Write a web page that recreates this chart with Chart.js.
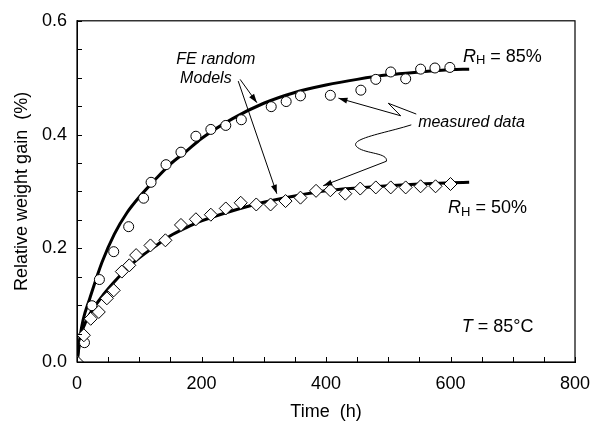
<!DOCTYPE html>
<html><head><meta charset="utf-8">
<script src="https://cdn.jsdelivr.net/npm/chart.js@4/dist/chart.umd.min.js"></script>
<style>html,body{margin:0;padding:0;background:#fff}#wrap{width:603px;height:430px}</style>
</head><body><div id="wrap"><canvas id="c"></canvas></div>
<script>
// measured data, RH = 85% (circles)
const time85 = [12,24,36,59,83,107,119,143,167,191,215,239,264,312,336,359,407,456,480,504,528,552,575,599];
const gain85 = [0.034,0.099,0.145,0.194,0.238,0.288,0.316,0.347,0.369,0.397,0.409,0.416,0.426,0.449,0.458,0.468,0.469,0.478,0.497,0.510,0.498,0.515,0.517,0.518];
// measured data, RH = 50% (diamonds)
const time50 = [0,11,22,35,48,59,72,84,95,118,142,167,191,215,239,263,288,311,335,359,384,407,431,455,480,504,528,552,576,600];
const gain50 = [0,0.047,0.076,0.088,0.112,0.126,0.159,0.170,0.188,0.205,0.214,0.241,0.251,0.259,0.270,0.280,0.277,0.277,0.283,0.289,0.301,0.302,0.296,0.305,0.307,0.307,0.307,0.309,0.309,0.313];
// FE random model curves
const modelTime = [0,5,10,20,40,60,80,100,125,150,175,200,250,300,350,400,450,500,550,600,630];
const model85 = [0,0.045,0.075,0.11,0.175,0.225,0.262,0.29,0.32,0.348,0.37,0.393,0.428,0.455,0.474,0.487,0.497,0.505,0.510,0.514,0.515];
const model50 = [0,0.04,0.06,0.083,0.115,0.141,0.164,0.183,0.203,0.222,0.236,0.248,0.266,0.281,0.292,0.301,0.306,0.310,0.313,0.315,0.316];
// axis ticks
const xLabels = [0,200,400,600,800];
const yLabels = [0.0,0.2,0.4,0.6];

const pts = (xs, ys) => xs.map((x,i)=>({x:x,y:ys[i]}));
const FONT = "'Liberation Sans', Arial, sans-serif";

const framePlugin = {
  id:'frame',
  afterDatasetsDraw(chart){
    const {ctx, chartArea:a, scales:{x,y}} = chart;
    const X = v=>x.getPixelForValue(v), Y = v=>y.getPixelForValue(v);
    ctx.save();
    // frame
    ctx.strokeStyle='#000'; ctx.lineWidth=1.2;
    ctx.strokeRect(a.left, a.top, a.right-a.left, a.bottom-a.top);
    // inward ticks
    ctx.lineWidth=1;
    ctx.beginPath();
    for(let t=0;t<=800;t+=50){ const px=Math.round(X(t))+0.5; ctx.moveTo(px,a.bottom); ctx.lineTo(px,a.bottom-5); }
    for(let v=0;v<=0.6001;v+=0.05){ const py=Math.round(Y(v))+0.5; ctx.moveTo(a.left,py); ctx.lineTo(a.left+5,py); }
    ctx.stroke();

    function arrowHead(x1,y1,x2,y2){
      const ang=Math.atan2(y2-y1,x2-x1), L=9, W=3;
      ctx.beginPath();
      ctx.moveTo(x2,y2);
      ctx.lineTo(x2-L*Math.cos(ang)+W*Math.sin(ang), y2-L*Math.sin(ang)-W*Math.cos(ang));
      ctx.lineTo(x2-L*Math.cos(ang)-W*Math.sin(ang), y2-L*Math.sin(ang)+W*Math.cos(ang));
      ctx.closePath(); ctx.fill();
    }
    ctx.fillStyle='#000'; ctx.lineWidth=1;
    // FE arrows
    const fe = [[262,0.497,289,0.456],[259,0.494,321,0.296]];
    fe.forEach(([t1,v1,t2,v2])=>{
      ctx.beginPath(); ctx.moveTo(X(t1),Y(v1)); ctx.lineTo(X(t2),Y(v2)); ctx.stroke();
      arrowHead(X(t1),Y(v1),X(t2),Y(v2));
    });
    // measured data arrow 1 (zigzag)
    ctx.beginPath();
    ctx.moveTo(X(545),Y(0.436)); ctx.lineTo(X(500),Y(0.455)); ctx.lineTo(X(520),Y(0.433)); ctx.lineTo(X(420),Y(0.464));
    ctx.stroke();
    arrowHead(X(520),Y(0.433),X(420),Y(0.464));
    // measured data arrow 2 (S-curve)
    ctx.beginPath();
    ctx.moveTo(X(537),Y(0.417));
    ctx.bezierCurveTo(X(494),Y(0.402),X(432),Y(0.392),X(451),Y(0.377));
    ctx.bezierCurveTo(X(464),Y(0.366),X(500),Y(0.368),X(497),Y(0.353));
    ctx.lineTo(X(395.5),Y(0.310));
    ctx.stroke();
    arrowHead(X(497),Y(0.353),X(395.5),Y(0.310));

    // texts
    ctx.textBaseline='middle';
    ctx.fillStyle='#000';
    ctx.font="italic 16px "+FONT; ctx.textAlign='center';
    ctx.fillText('FE random', X(223), Y(0.531));
    ctx.fillText('Models', X(207), Y(0.498));
    ctx.textAlign='left';
    ctx.fillText('measured data', X(548), Y(0.421));

    function rh(t,v,val){
      let px=X(t), py=Y(v);
      ctx.font="italic 18px "+FONT; ctx.fillText('R',px,py); px+=ctx.measureText('R').width;
      ctx.font="13px "+FONT; ctx.fillText('H',px,py+4); px+=ctx.measureText('H').width;
      ctx.font="18px "+FONT; ctx.fillText(' = '+val,px,py);
    }
    rh(620,0.537,'85%');
    rh(596,0.270,'50%');
    let px=X(618), py=Y(0.062);
    ctx.font="italic 18px "+FONT; ctx.fillText('T',px,py); px+=ctx.measureText('T').width;
    ctx.font="18px "+FONT; ctx.fillText(' = 85°C',px,py);
    ctx.restore();
  }
};

new Chart(document.getElementById('c'), {
  type:'scatter',
  data:{datasets:[
    {type:'line', data:pts(modelTime,model85), borderColor:'#000', borderWidth:3, pointRadius:0, fill:false, cubicInterpolationMode:'monotone', order:3},
    {type:'line', data:pts(modelTime,model50), borderColor:'#000', borderWidth:3, pointRadius:0, fill:false, cubicInterpolationMode:'monotone', order:3},
    {data:pts(time85,gain85), pointStyle:'circle', pointRadius:5, backgroundColor:'#fff', borderColor:'#000', borderWidth:1, order:1},
    {data:pts(time50,gain50), pointStyle:'rectRot', pointRadius:6.5, backgroundColor:'#fff', borderColor:'#000', borderWidth:1, order:0}
  ]},
  options:{
    responsive:true, maintainAspectRatio:false, animation:false,
    devicePixelRatio:1,
    layout:{padding:{left:0,top:13,right:28,bottom:0}},
    plugins:{legend:{display:false}, tooltip:{enabled:false}},
    scales:{
      x:{type:'linear', min:0, max:800,
        afterFit(s){ s.height=68; },
        afterBuildTicks(s){ s.ticks = xLabels.map(v=>({value:v})); },
        grid:{display:false, drawTicks:false},
        border:{display:true,color:'#000'},
        ticks:{color:'#000', padding:11, font:{family:FONT,size:18}, maxRotation:0, callback:v=>String(v)},
        title:{display:true, text:'Time  (h)', color:'#000', font:{family:FONT,size:18}, padding:{top:0,bottom:7}}
      },
      y:{type:'linear', min:0, max:0.6,
        afterFit(s){ s.width=77; },
        afterBuildTicks(s){ s.ticks = yLabels.map(v=>({value:v})); },
        grid:{display:false, drawTicks:false},
        border:{display:true,color:'#000'},
        ticks:{color:'#000', padding:10, font:{family:FONT,size:18}, callback:v=>Number(v).toFixed(1)},
        title:{display:true, text:'Relative weight gain  (%)', color:'#000', font:{family:FONT,size:18}, padding:{top:11,bottom:0}}
      }
    }
  },
  plugins:[framePlugin]
});
</script></body></html>
